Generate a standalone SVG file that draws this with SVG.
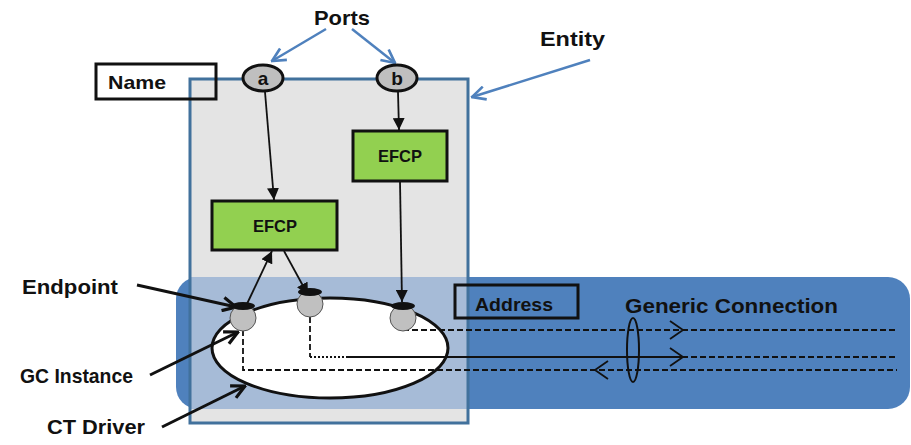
<svg xmlns="http://www.w3.org/2000/svg" width="911" height="445" viewBox="0 0 911 445">
<style>
.lbl{font-family:"Liberation Sans",Arial,sans-serif;font-weight:bold;fill:#111}
.efcp rect{fill:#92d050;stroke:#111;stroke-width:3}
.port ellipse{fill:#bfbfbf;stroke:#111;stroke-width:3}
.ep circle{fill:#c0c0c0;stroke:#555;stroke-width:1}
.ep ellipse{fill:#111}
.dash{fill:none;stroke:#111;stroke-width:1.8;stroke-dasharray:6,3}
.blk{fill:none;stroke:#111;stroke-width:1.8}
.thick{fill:none;stroke:#111;stroke-width:3}
.blue{fill:none;stroke:#4f81bd;stroke-width:2.5}
</style>
<defs>
<marker id="tri" viewBox="0 0 10 10" refX="10" refY="5" markerWidth="12" markerHeight="12" markerUnits="userSpaceOnUse" orient="auto"><path d="M0,0 L10,5 L0,10 Z" fill="#111"/></marker>
<marker id="openB" viewBox="0 0 12 12" refX="11" refY="6" markerWidth="16" markerHeight="16" markerUnits="userSpaceOnUse" orient="auto"><path d="M1,1 L11,6 L1,11" fill="none" stroke="#4f81bd" stroke-width="2"/></marker>
<marker id="openK" viewBox="0 0 12 12" refX="11" refY="6" markerWidth="16" markerHeight="16" markerUnits="userSpaceOnUse" orient="auto"><path d="M1,1 L11,6 L1,11" fill="none" stroke="#111" stroke-width="2.4"/></marker>
</defs>
<g id="band">
<rect x="176" y="277" width="734" height="132" rx="22" fill="#4f81bd"/>
</g>
<g id="entity">
<rect x="190" y="79" width="278" height="198" fill="#e4e4e4"/>
<rect x="190" y="277" width="278" height="132" fill="#a6bbd7"/>
<rect x="190" y="409" width="278" height="14" fill="#e4e4e4"/>
<rect x="190" y="79" width="278" height="344" fill="none" stroke="#41719c" stroke-width="3"/>
</g>
<g id="name">
<rect x="96" y="64" width="120" height="35" fill="none" stroke="#111" stroke-width="3"/>
<text class="lbl" x="108" y="89" font-size="19" textLength="58" lengthAdjust="spacingAndGlyphs">Name</text>
</g>
<g id="address">
<rect x="455" y="285" width="123" height="33" fill="none" stroke="#111" stroke-width="3"/>
<text class="lbl" x="475" y="311" font-size="18" textLength="78" lengthAdjust="spacingAndGlyphs">Address</text>
</g>
<g id="gc-instance">
<ellipse cx="330" cy="348" rx="118" ry="50" fill="#fff" stroke="#111" stroke-width="3"/>
</g>
<g id="connectors">
<path class="blue" d="M326,29 L272,61" marker-end="url(#openB)"/>
<path class="blue" d="M352,29 L395,63" marker-end="url(#openB)"/>
<path class="blue" d="M590,60 L472,97" marker-end="url(#openB)"/>
<path class="blk" d="M265,92 L274,200" marker-end="url(#tri)"/>
<path class="blk" d="M398,92 L399,130" marker-end="url(#tri)"/>
<path class="blk" d="M400,181 L402,302" marker-end="url(#tri)"/>
<path class="blk" d="M246,306 L272,251" marker-end="url(#tri)"/>
<path class="blk" d="M284,251 L308,295" marker-end="url(#tri)"/>
<path class="thick" d="M137,285 L236,307" marker-end="url(#openK)"/>
<path class="thick" d="M150,375 L238,332" marker-end="url(#openK)"/>
<path class="thick" d="M162,427 L245,386" marker-end="url(#openK)"/>
<path class="dash" d="M403,330 L897,330"/>
<path class="dash" d="M310,317 L310,357"/>
<path d="M310,357 L347,357" fill="none" stroke="#111" stroke-width="1.8" stroke-dasharray="2,2"/>
<path class="blk" d="M347,357 L682,357"/>
<path class="dash" d="M682,357 L897,357"/>
<path class="dash" d="M243,330 L243,370 L897,370"/>
<path class="blk" d="M670,321 L683,330 L670,339"/>
<path class="blk" d="M670,348 L683,357 L670,366"/>
<path class="blk" d="M608,361 L595,370 L608,379"/>
<ellipse cx="633" cy="350" rx="6" ry="32" fill="none" stroke="#111" stroke-width="2"/>
</g>
<g id="port-a" class="port">
<ellipse cx="263" cy="78" rx="20" ry="13"/>
<text class="lbl" x="263" y="85" font-size="19" text-anchor="middle">a</text>
</g>
<g id="port-b" class="port">
<ellipse cx="397" cy="78" rx="20" ry="13"/>
<text class="lbl" x="397" y="85" font-size="19" text-anchor="middle">b</text>
</g>
<g id="efcp-1" class="efcp">
<rect x="212" y="201" width="125" height="49"/>
<text class="lbl" x="253" y="232" font-size="17" textLength="44" lengthAdjust="spacingAndGlyphs">EFCP</text>
</g>
<g id="efcp-2" class="efcp">
<rect x="353" y="131" width="94" height="50"/>
<text class="lbl" x="378" y="162" font-size="17" textLength="44" lengthAdjust="spacingAndGlyphs">EFCP</text>
</g>
<g id="endpoint-1" class="ep">
<circle cx="243" cy="318" r="13"/>
<ellipse cx="243" cy="306" rx="12" ry="4"/>
</g>
<g id="endpoint-2" class="ep">
<circle cx="310" cy="304" r="13"/>
<ellipse cx="310" cy="292" rx="12" ry="4"/>
</g>
<g id="endpoint-3" class="ep">
<circle cx="403" cy="318" r="13"/>
<ellipse cx="403" cy="306" rx="12" ry="4"/>
</g>
<g id="labels">
<text class="lbl" x="314" y="25" font-size="21" textLength="56" lengthAdjust="spacingAndGlyphs">Ports</text>
<text class="lbl" x="540" y="46" font-size="21" textLength="65" lengthAdjust="spacingAndGlyphs">Entity</text>
<text class="lbl" x="22" y="294" font-size="21" textLength="96" lengthAdjust="spacingAndGlyphs">Endpoint</text>
<text class="lbl" x="20" y="383" font-size="21" textLength="113" lengthAdjust="spacingAndGlyphs">GC Instance</text>
<text class="lbl" x="47" y="434" font-size="21" textLength="98" lengthAdjust="spacingAndGlyphs">CT Driver</text>
<text class="lbl" x="625" y="313" font-size="21" textLength="213" lengthAdjust="spacingAndGlyphs">Generic Connection</text>
</g>
</svg>
